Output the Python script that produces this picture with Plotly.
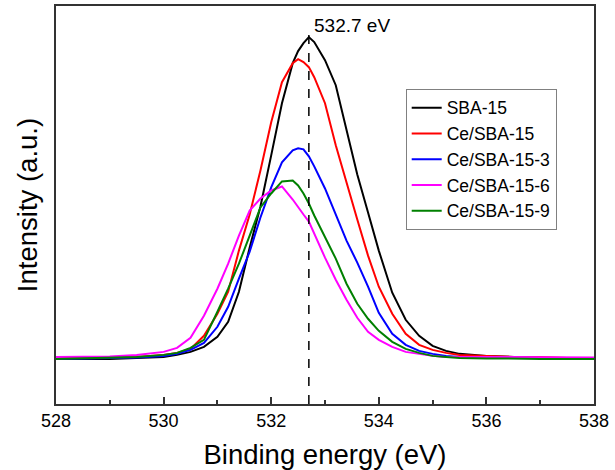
import plotly.graph_objects as go

# Binding energy grid (eV)
energy = [528.0, 528.5, 529.0, 529.5, 530.0, 530.25, 530.5, 530.75, 531.0, 531.2,
          531.4, 531.6, 531.8, 532.0, 532.2, 532.4, 532.5, 532.6, 532.7, 532.8,
          533.0, 533.2, 533.4, 533.6, 533.8, 534.0, 534.25, 534.5, 534.75, 535.0,
          535.25, 535.5, 536.0, 536.5, 537.0, 537.5, 538.0]

sba15 = [45, 45, 45, 46, 47, 49, 52, 57, 67, 82,
         112, 156, 197, 248, 300, 340, 352, 360, 366, 361,
         343, 318, 275, 229, 191, 153, 111, 84, 68, 58,
         53, 50, 48, 47, 46, 46, 46]

ce_sba15 = [46, 46, 46.5, 47, 49, 51, 55, 68, 90, 112,
            153, 189, 233, 281, 321, 340, 344, 341, 336, 326,
            300, 258, 220, 184, 148, 117, 90, 70, 59, 54,
            51, 49, 48, 47, 47, 46, 46]

ce_sba15_3 = [45, 45.5, 46, 46.5, 48, 50, 54, 61, 77, 97,
              125, 152, 186, 216, 241, 253, 255, 254, 247, 237,
              215, 189, 163, 141, 117, 91, 70, 59, 53, 50,
              48, 47, 46.5, 46, 46, 46, 46]

ce_sba15_6 = [47, 47, 47.5, 49, 52, 56, 66, 88, 115, 140,
              168, 193, 205, 213, 217, 204, 196, 189, 182, 170,
              146, 124, 104, 86, 72, 64, 57, 52, 50, 48,
              47, 47, 46.5, 46.5, 46.5, 46.5, 46.5]

ce_sba15_9 = [45, 45.5, 46, 47, 49, 51, 56, 64, 92, 115,
              140, 168, 196, 210, 222, 223, 218, 210, 200, 188,
              166, 145, 120, 100, 85, 73, 62, 55, 51, 48,
              47, 46, 45.5, 45, 45, 45, 45]

series_names = ["SBA-15", "Ce/SBA-15", "Ce/SBA-15-3", "Ce/SBA-15-6", "Ce/SBA-15-9"]
series_values = [sba15, ce_sba15, ce_sba15_3, ce_sba15_6, ce_sba15_9]
colors = ["#000000", "#ff0000", "#0000ff", "#ff00ff", "#008000"]

peak_position = 532.7
peak_label = "532.7 eV"

x_ticks = [528, 530, 532, 534, 536, 538]

FONT = "Liberation Sans, Arial, sans-serif"

fig = go.Figure()
for name, vals, col in zip(series_names, series_values, colors):
    fig.add_trace(go.Scatter(x=energy, y=vals, mode="lines", name=name,
                             line=dict(color=col, width=2)))

top = max(sba15) + 8
fig.add_shape(type="line", x0=peak_position, x1=peak_position, y0=0, y1=top,
              xref="x", yref="y", line=dict(color="#000000", width=1.5, dash="dash"))
fig.add_annotation(x=peak_position, y=top, text=peak_label, showarrow=False,
                   xanchor="left", yanchor="middle", xshift=3, yshift=4,
                   font=dict(family=FONT, size=19, color="#000000"))

fig.update_layout(
    width=615, height=470,
    margin=dict(l=56, r=21, t=6, b=66),
    paper_bgcolor="white", plot_bgcolor="white",
    font=dict(family=FONT, color="#000000"),
    showlegend=True,
    legend=dict(x=0.65, y=0.792, xanchor="left", yanchor="top",
                bgcolor="white", bordercolor="#808080", borderwidth=1,
                font=dict(family=FONT, size=17.5, color="#000000"),
                tracegroupgap=0),
)
fig.update_xaxes(range=[528, 538], tickvals=x_ticks, ticktext=[str(t) for t in x_ticks],
                 automargin=False,
                 ticks="inside", ticklen=7, tickwidth=1.5, tickcolor="#333333",
                 minor=dict(dtick=1, tick0=528, ticks="inside", ticklen=4, tickwidth=1.5, tickcolor="#333333"),
                 showline=True, linecolor="#333333", linewidth=1.5, mirror=True,
                 showgrid=False, zeroline=False,
                 tickfont=dict(family=FONT, size=18, color="#000000"),
                 title=dict(text="Binding energy (eV)", font=dict(family=FONT, size=27.5, color="#000000"), standoff=14))
fig.update_yaxes(range=[0, 397], showticklabels=False, ticks="",
                 automargin=False,
                 showline=True, linecolor="#333333", linewidth=1.5, mirror=True,
                 showgrid=False, zeroline=False,
                 title=dict(text="Intensity (a.u.)", font=dict(family=FONT, size=27.5, color="#000000"), standoff=9))

fig.write_html("out.html", config={"displayModeBar": False},
               post_script="document.body.style.margin='0';")
